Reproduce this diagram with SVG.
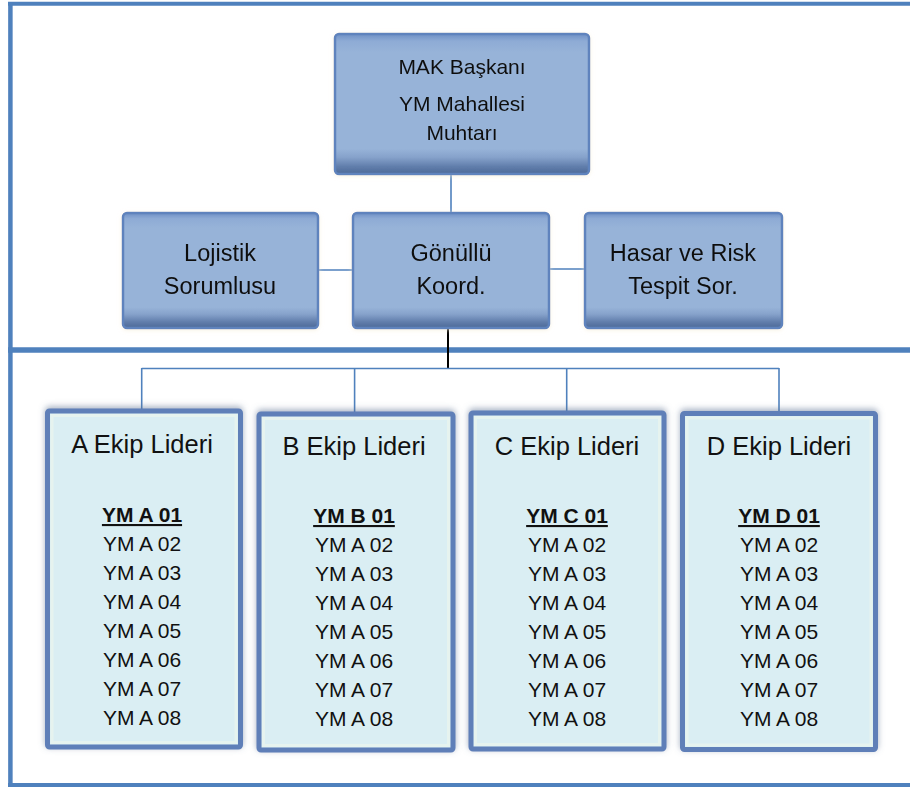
<svg xmlns="http://www.w3.org/2000/svg" width="910" height="787" viewBox="0 0 910 787">
<defs>
<linearGradient id="gTop" x1="0" y1="0" x2="0" y2="1">
<stop offset="0" stop-color="#6f90c5"/>
<stop offset="0.05" stop-color="#8eabd5"/>
<stop offset="0.13" stop-color="#97b3d8"/>
<stop offset="0.82" stop-color="#97b3d8"/>
<stop offset="0.88" stop-color="#86a2cb"/>
<stop offset="0.95" stop-color="#5f7caa"/>
<stop offset="1" stop-color="#4d6a98"/>
</linearGradient>
<filter id="fGlow" x="-10%" y="-10%" width="120%" height="120%">
<feGaussianBlur in="SourceAlpha" stdDeviation="3"/>
<feOffset dx="0" dy="-2" result="b"/>
<feFlood flood-color="#5a6f8f" flood-opacity="0.55"/>
<feComposite in2="b" operator="in"/>
<feMerge><feMergeNode/><feMergeNode in="SourceGraphic"/></feMerge>
</filter>
<filter id="fSoft" x="-10%" y="-10%" width="120%" height="120%">
<feGaussianBlur in="SourceAlpha" stdDeviation="2"/>
<feOffset dx="0" dy="1" result="b"/>
<feFlood flood-color="#f3ead0" flood-opacity="0.6"/>
<feComposite in2="b" operator="in"/>
<feMerge><feMergeNode/><feMergeNode in="SourceGraphic"/></feMerge>
</filter>
</defs>
<style>
.frame{stroke:#4f81bd;fill:none}
.conn{stroke:#4f81bd;stroke-width:1.6;fill:none}
.top{fill:url(#gTop);stroke:#5f83bd;stroke-width:2.5}
.team{fill:#daeef3;stroke:#5f7fb8;stroke-width:5}
.inner{fill:none;stroke:#e6f3ef;stroke-width:3}
text{font-family:"Liberation Sans",Arial,sans-serif;fill:#111;text-anchor:middle}
.t1{font-size:21px}
.t2{font-size:23.5px}
.tt{font-size:25.5px}
.li{font-size:21px}
.lb{font-size:21px;font-weight:bold;text-decoration:underline}
</style>
<rect width="910" height="787" fill="#ffffff"/>
<g id="frame">
<line class="frame" x1="8" y1="3.7" x2="910" y2="3.7" stroke-width="4"/>
<line class="frame" x1="10.4" y1="2" x2="10.4" y2="787" stroke-width="4.5"/>
<line class="frame" x1="8" y1="350" x2="910" y2="350" stroke-width="5.5"/>
<line class="frame" x1="8" y1="785" x2="910" y2="785" stroke-width="4"/>
</g>
<g id="connectors">
<line class="conn" x1="451" y1="174" x2="451" y2="213"/>
<line class="conn" x1="318" y1="270" x2="353" y2="270"/>
<line class="conn" x1="549" y1="269" x2="585" y2="269"/>
<line x1="448" y1="328" x2="448" y2="369" stroke="#000" stroke-width="2"/>
<line class="conn" x1="141.7" y1="368.5" x2="779" y2="368.5"/>
<line class="conn" x1="141.7" y1="368" x2="141.7" y2="412"/>
<line class="conn" x1="354.6" y1="368" x2="354.6" y2="414"/>
<line class="conn" x1="566.7" y1="368" x2="566.7" y2="413"/>
<line class="conn" x1="779" y1="368" x2="779" y2="413"/>
</g>
<g id="node-mak" filter="url(#fSoft)">
<rect class="top" x="335" y="34" width="254" height="140" rx="4"/>
<text class="t1" x="462" y="74">MAK Başkanı</text>
<text class="t1" x="462" y="111">YM Mahallesi</text>
<text class="t1" x="462" y="140">Muhtarı</text>
</g>
<g id="node-lojistik" filter="url(#fSoft)">
<rect class="top" x="123" y="213" width="195" height="115" rx="4"/>
<text class="t2" x="220" y="261">Lojistik</text>
<text class="t2" x="220" y="294">Sorumlusu</text>
</g>
<g id="node-gonullu" filter="url(#fSoft)">
<rect class="top" x="353" y="213" width="196" height="115" rx="4"/>
<text class="t2" x="451" y="261">Gönüllü</text>
<text class="t2" x="451" y="294">Koord.</text>
</g>
<g id="node-hasar" filter="url(#fSoft)">
<rect class="top" x="585" y="213" width="197" height="115" rx="4"/>
<text class="t2" x="683" y="261">Hasar ve Risk</text>
<text class="t2" x="683" y="294">Tespit Sor.</text>
</g>
<g id="node-a">
<rect class="team" x="47.5" y="411" width="193" height="336" rx="2" filter="url(#fGlow)"/>
<rect class="inner" x="52" y="415.5" width="184" height="327"/>
<text class="tt" x="142" y="453">A Ekip Lideri</text>
<text class="lb" x="142" y="522">YM A 01</text>
<text class="li" x="142" y="551">YM A 02</text>
<text class="li" x="142" y="580">YM A 03</text>
<text class="li" x="142" y="609">YM A 04</text>
<text class="li" x="142" y="638">YM A 05</text>
<text class="li" x="142" y="667">YM A 06</text>
<text class="li" x="142" y="696">YM A 07</text>
<text class="li" x="142" y="725">YM A 08</text>
</g>
<g id="node-b">
<rect class="team" x="259" y="414" width="194" height="336" rx="2" filter="url(#fGlow)"/>
<rect class="inner" x="263.5" y="418.5" width="185" height="327"/>
<text class="tt" x="354" y="455">B Ekip Lideri</text>
<text class="lb" x="354" y="523">YM B 01</text>
<text class="li" x="354" y="552">YM A 02</text>
<text class="li" x="354" y="581">YM A 03</text>
<text class="li" x="354" y="610">YM A 04</text>
<text class="li" x="354" y="639">YM A 05</text>
<text class="li" x="354" y="668">YM A 06</text>
<text class="li" x="354" y="697">YM A 07</text>
<text class="li" x="354" y="726">YM A 08</text>
</g>
<g id="node-c">
<rect class="team" x="471" y="413" width="193" height="336" rx="2" filter="url(#fGlow)"/>
<rect class="inner" x="475.5" y="417.5" width="184" height="327"/>
<text class="tt" x="567" y="455">C Ekip Lideri</text>
<text class="lb" x="567" y="523">YM C 01</text>
<text class="li" x="567" y="552">YM A 02</text>
<text class="li" x="567" y="581">YM A 03</text>
<text class="li" x="567" y="610">YM A 04</text>
<text class="li" x="567" y="639">YM A 05</text>
<text class="li" x="567" y="668">YM A 06</text>
<text class="li" x="567" y="697">YM A 07</text>
<text class="li" x="567" y="726">YM A 08</text>
</g>
<g id="node-d">
<rect class="team" x="682.5" y="413.5" width="193" height="336" rx="2" filter="url(#fGlow)"/>
<rect class="inner" x="687" y="418" width="184" height="327"/>
<text class="tt" x="779" y="455">D Ekip Lideri</text>
<text class="lb" x="779" y="523">YM D 01</text>
<text class="li" x="779" y="552">YM A 02</text>
<text class="li" x="779" y="581">YM A 03</text>
<text class="li" x="779" y="610">YM A 04</text>
<text class="li" x="779" y="639">YM A 05</text>
<text class="li" x="779" y="668">YM A 06</text>
<text class="li" x="779" y="697">YM A 07</text>
<text class="li" x="779" y="726">YM A 08</text>
</g>
</svg>
